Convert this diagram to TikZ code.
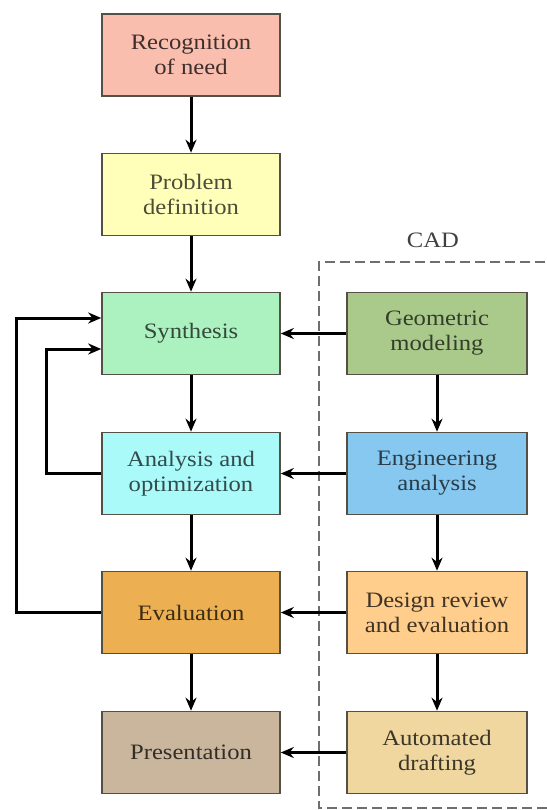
\documentclass[tikz,border=0pt]{standalone}
\usepackage{fontspec}
\setmainfont[FakeStretch=1.12]{Liberation Serif}
\usetikzlibrary{arrows.meta}
\definecolor{cRec}{RGB}{250,190,175}
\definecolor{cProb}{RGB}{255,255,185}
\definecolor{cSyn}{RGB}{172,242,192}
\definecolor{cAna}{RGB}{170,250,250}
\definecolor{cEval}{RGB}{236,176,82}
\definecolor{cPres}{RGB}{202,182,156}
\definecolor{cGeo}{RGB}{170,202,140}
\definecolor{cEng}{RGB}{135,200,240}
\definecolor{cDes}{RGB}{255,205,140}
\definecolor{cAuto}{RGB}{240,215,160}
\definecolor{boxline}{RGB}{85,80,70}
\definecolor{dashcol}{RGB}{110,110,110}
\begin{document}
\begin{tikzpicture}[x=1pt,y=-1pt,
  box/.style={draw=boxline, line width=1.6pt, minimum width=178pt, minimum height=82pt,
    align=center, inner sep=0pt, font=\fontsize{22}{25}\selectfont},
  rbox/.style={box, minimum width=180pt},
  arr/.style={line width=3pt, -{Stealth[length=13pt,width=11pt]}},
  fb/.style={line width=3pt, -{Stealth[length=13pt,width=11pt]}},
  cadframe/.style={dashed, dash pattern=on 10pt off 5pt, line width=1.2pt, draw=dashcol}]
\useasboundingbox (0,0) rectangle (546,810);
\fill[white] (0,0) rectangle (546,810);

% left column
\node[box, fill=cRec, text=black!75!cRec] (rec) at (191,55) {Recognition\\of need};
\node[box, fill=cProb, text=black!70!cProb] (prob) at (191,194.5) {Problem\\definition};
\node[box, fill=cSyn, text=black!70!cSyn] (syn) at (191,333.5) {Synthesis};
\node[box, fill=cAna, text=black!70!cAna] (ana) at (191,473.5) {Analysis and\\optimization};
\node[box, fill=cEval, text=black!75!cEval] (eval) at (191,612.5) {Evaluation};
\node[box, fill=cPres, text=black!75!cPres] (pres) at (191,752.5) {Presentation};

% right column
\node[rbox, fill=cGeo, text=black!70!cGeo] (geo) at (437,333.5) {Geometric\\modeling};
\node[rbox, fill=cEng, text=black!70!cEng] (eng) at (437,473.5) {Engineering\\analysis};
\node[rbox, fill=cDes, text=black!75!cDes] (des) at (437,612.5) {Design review\\and evaluation};
\node[rbox, fill=cAuto, text=black!75!cAuto] (auto) at (437,752.5) {Automated\\drafting};

% CAD frame
\node[font=\fontsize{22}{25}\selectfont, text=black!75] (cad) at (433,240) {CAD};
\coordinate (ftr) at (560,262);
\coordinate (ftl) at (319,262);
\coordinate (fbl) at (319,808);
\coordinate (fbr) at (560,808);
\draw[cadframe] (ftr) -- (ftl) -- (fbl) -- (fbr);

% vertical arrows
\draw[arr] (rec) -- (prob);
\draw[arr] (prob) -- (syn);
\draw[arr] (syn) -- (ana);
\draw[arr] (ana) -- (eval);
\draw[arr] (eval) -- (pres);
\draw[arr] (geo) -- (eng);
\draw[arr] (eng) -- (des);
\draw[arr] (des) -- (auto);

% horizontal arrows
\draw[arr] (geo) -- (syn);
\draw[arr] (eng) -- (ana);
\draw[arr] (des) -- (eval);
\draw[arr] (auto) -- (pres);

% feedback loops
\coordinate (o1) at (16,612.5);
\coordinate (o2) at (16,318);
\coordinate (i1) at (46,473.5);
\coordinate (i2) at (46,349);
\draw[fb] (eval.west) -- (o1) -- (o2) -- (o2 -| syn.west);
\draw[fb] (ana.west) -- (i1) -- (i2) -- (i2 -| syn.west);
\end{tikzpicture}
\end{document}
